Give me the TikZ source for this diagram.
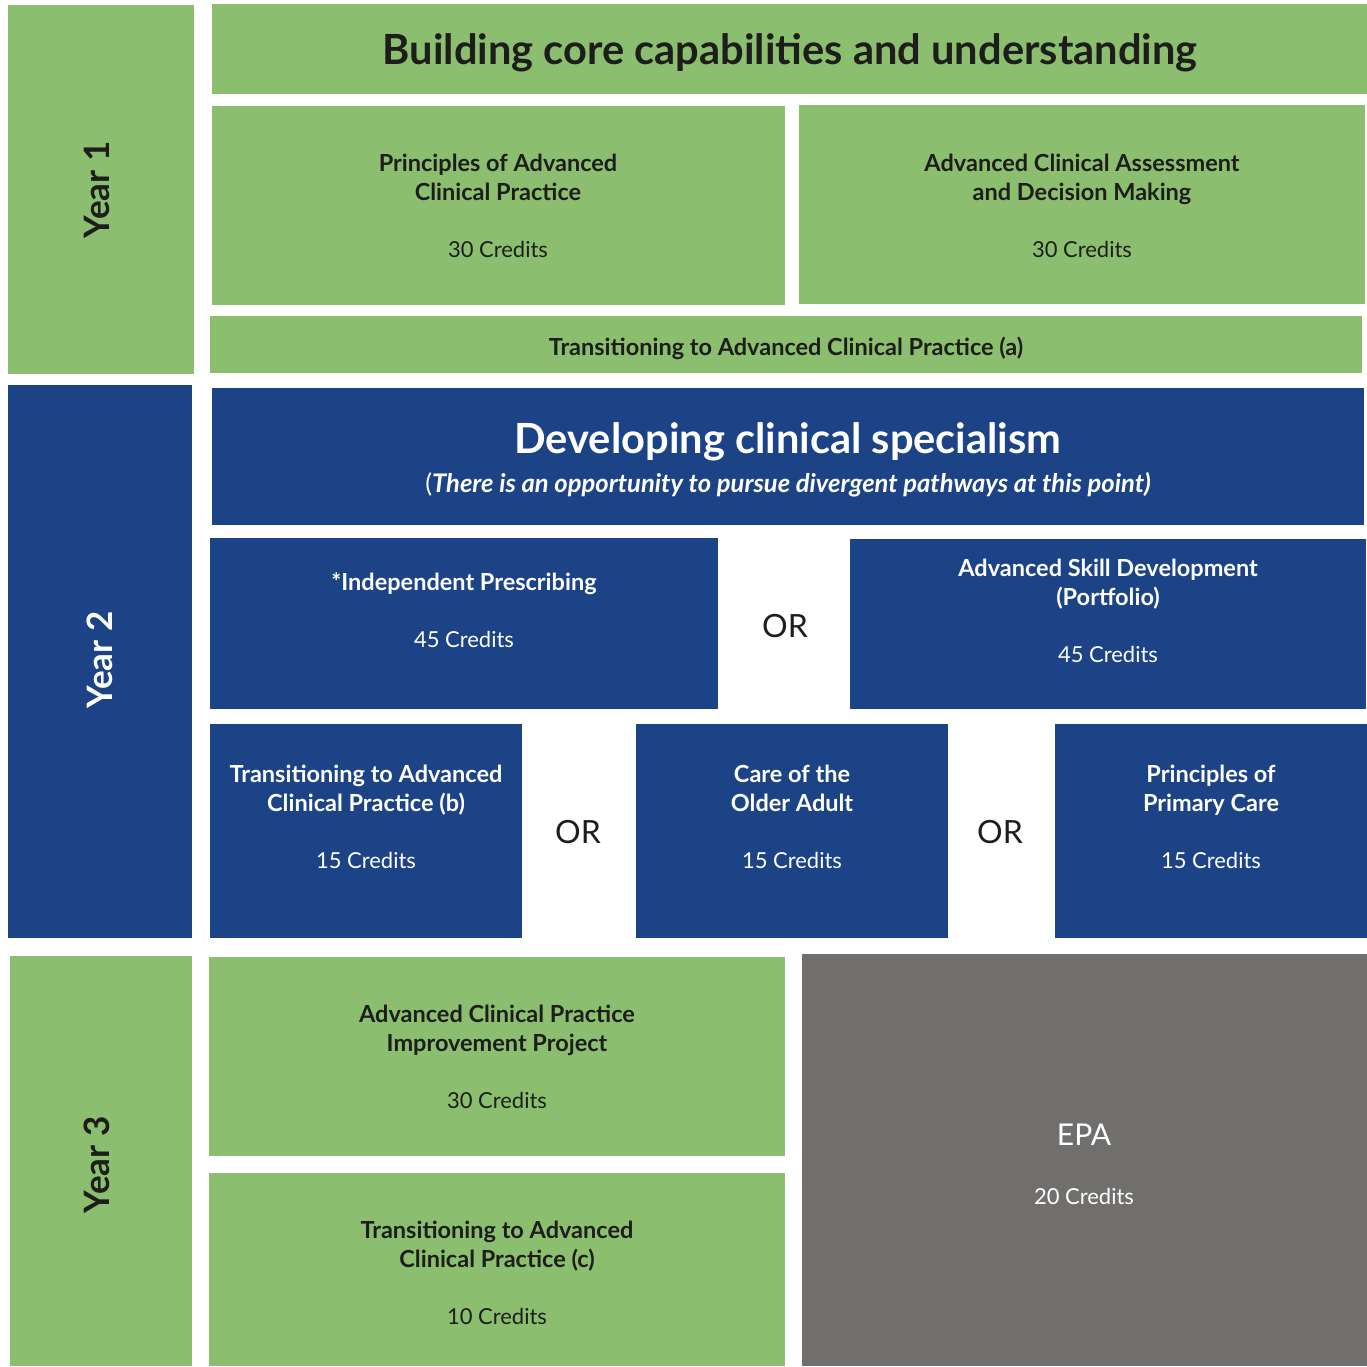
\documentclass[tikz,border=0pt]{standalone}
\usepackage{fontspec}
\setmainfont{Lato}
\definecolor{grn}{RGB}{139,191,111}
\definecolor{blu}{RGB}{28,67,134}
\definecolor{gry}{RGB}{112,111,109}
\definecolor{ink}{RGB}{29,29,27}
\newcommand\mybox[7]{\node[#2, minimum width={#5pt-#3pt}, minimum height={#6pt-#4pt}] (#1) at (#3,#4) {#7};}
\newcommand\hd[1]{{\fontsize{23.5}{29}\selectfont\bfseries #1}}
\tikzset{
  blk/.style={inner sep=0pt, outer sep=0pt, anchor=north west, draw=none},
  gbox/.style={blk, fill=grn},
  bbox/.style={blk, fill=blu},
  kbox/.style={blk, fill=gry},
  body/.style={align=center, font=\fontsize{22}{29}\selectfont, inner sep=0pt},
  gtxt/.style={body, text=ink},
  btxt/.style={body, text=white},
  big/.style={align=center, font=\fontsize{41.6}{44}\selectfont\bfseries, inner sep=0pt},
  yr/.style={rotate=90, font=\fontsize{35}{36}\selectfont\bfseries, inner sep=0pt},
  ortxt/.style={font=\fontsize{32}{34}\selectfont, text=ink, inner sep=0pt},
}
\begin{document}
\begin{tikzpicture}[x=1pt,y=-1pt]
\useasboundingbox (0,0) rectangle (1367,1366);
% Year 1
\mybox{y1}{gbox}{8}{5}{194}{374}{}
\mybox{title}{gbox}{212}{4}{1367}{94}{}
\mybox{pacp}{gbox}{212}{106}{785}{305}{}
\mybox{aca}{gbox}{799}{105}{1365}{304}{}
\mybox{ta}{gbox}{210}{316}{1362}{373}{}
% Year 2
\mybox{y2}{bbox}{8}{385}{192}{938}{}
\mybox{dev}{bbox}{212}{388}{1364}{525}{}
\mybox{ip}{bbox}{210}{538}{718}{709}{}
\mybox{asd}{bbox}{850}{539}{1366}{709}{}
\mybox{tb}{bbox}{210}{724}{522}{938}{}
\mybox{care}{bbox}{636}{724}{948}{938}{}
\mybox{ppc}{bbox}{1055}{724}{1367}{938}{}
% Year 3
\mybox{y3}{gbox}{10}{956}{192}{1366}{}
\mybox{acpi}{gbox}{209}{957}{785}{1156}{}
\mybox{tc}{gbox}{209}{1173}{785}{1366}{}
\mybox{epa}{kbox}{802}{954}{1367}{1366}{}
% texts
\node[yr, text=ink] (ty1) at (97,190) {Year 1};
\node[yr, text=white] (ty2) at (100,660) {Year 2};
\node[yr, text=ink] (ty3) at (97,1165) {Year 3};
\node[big, text=ink] (ttitle) at (790,53) {Building core capabilities and understanding};
\node[gtxt] (tpacp) at (498,206) {\hd{Principles of Advanced}\\\hd{Clinical Practice}\\[28pt]30 Credits};
\node[gtxt] (taca) at (1082,205.5) {\hd{Advanced Clinical Assessment}\\\hd{and Decision Making}\\[28pt]30 Credits};
\node[gtxt] (tta) at (786,348) {\hd{Transitioning to Advanced Clinical Practice (a)}};
\node[big, text=white] (tdev) at (788,442) {Developing clinical specialism};
\node[btxt] (tsub) at (788,485) {\fontsize{25.6}{29}\selectfont(\textbf{\textit{There is an opportunity to pursue divergent pathways at this point)}}};
\node[btxt] (tip) at (464,610) {\hd{*Independent Prescribing}\\[28pt]45 Credits};
\node[ortxt] (or1) at (785,626) {OR};
\node[btxt] (tasd) at (1108,610.5) {\hd{Advanced Skill Development}\\\hd{(Portfolio)}\\[28pt]45 Credits};
\node[btxt] (ttb) at (366,817) {\hd{Transitioning to Advanced}\\\hd{Clinical Practice (b)}\\[28pt]15 Credits};
\node[ortxt] (or2) at (578,832) {OR};
\node[btxt] (tcare) at (792,817) {\hd{Care of the}\\\hd{Older Adult}\\[28pt]15 Credits};
\node[ortxt] (or3) at (1000,832) {OR};
\node[btxt] (tppc) at (1211,817) {\hd{Principles of}\\\hd{Primary Care}\\[28pt]15 Credits};
\node[gtxt] (tacpi) at (497,1057) {\hd{Advanced Clinical Practice}\\\hd{Improvement Project}\\[28pt]30 Credits};
\node[gtxt] (ttc) at (497,1273) {\hd{Transitioning to Advanced}\\\hd{Clinical Practice (c)}\\[28pt]10 Credits};
\node[btxt] (tepa) at (1084,1164) {{\fontsize{30}{30}\selectfont EPA}\\[30pt]20 Credits};
\end{tikzpicture}
\end{document}
